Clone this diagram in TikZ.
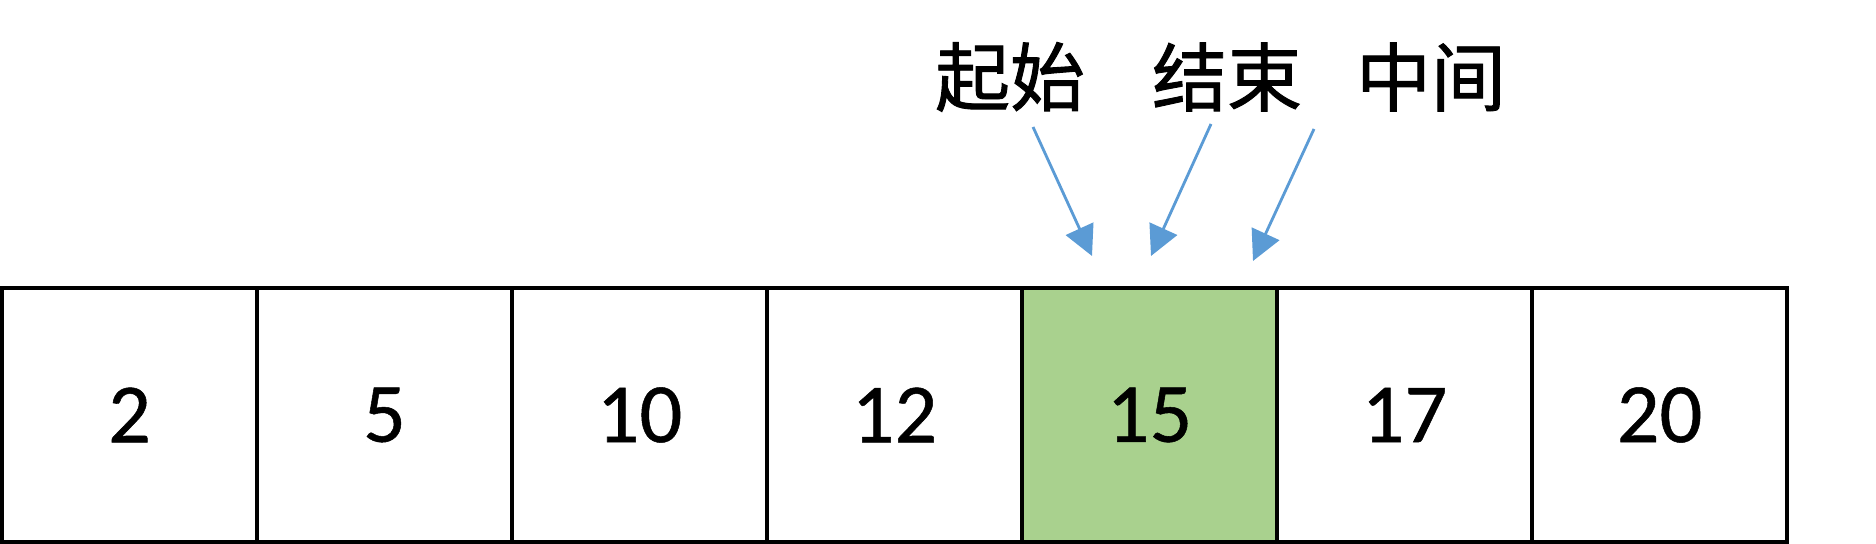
\documentclass[tikz,border=0pt]{standalone}
\usepackage{fontspec}
\setmainfont{Carlito}[FakeBold=0.6]
\newfontfamily\cjkfont{Noto Sans CJK SC}[FakeBold=1.2]
\usetikzlibrary{positioning,arrows.meta}
\definecolor{cellgreen}{HTML}{A9D18E}
\definecolor{ptrblue}{HTML}{5B9BD5}

\begin{document}
\begin{tikzpicture}[
  cell/.style={draw=black, line width=1.2pt, minimum width=2.55cm, minimum height=2.54cm,
    inner sep=0pt, outer sep=0pt, font=\fontsize{24}{28}\selectfont},
  tag/.style={font=\cjkfont\fontsize{21.3}{26}\selectfont, inner sep=0pt},
  ptr/.style={draw=ptrblue, line width=0.8pt, -{Triangle[length=3mm, width=3mm]}}
]
%% Fix the page size so that it has the same proportions as the original
    \useasboundingbox (0,0) rectangle (18.76,5.44);
%% The array, one box after another
    \node[cell] (n1) at (1.295,1.29) {2};
    \node[cell, right=0pt of n1] (n2) {5};
    \node[cell, right=0pt of n2] (n3) {10};
    \node[cell, right=0pt of n3] (n4) {12};
    \node[cell, fill=cellgreen, right=0pt of n4] (n5) {15};
    \node[cell, right=0pt of n5] (n6) {17};
    \node[cell, right=0pt of n6] (n7) {20};
%% The three pointers on top
    \node[tag] (start) at (10.10,4.67) {起始};
    \node[tag] (end) at (12.27,4.67) {结束};
    \node[tag] (mid) at (14.31,4.67) {中间};
    \coordinate (startfrom) at (10.33,4.17);
    \coordinate (startto) at (10.92,2.88);
    \coordinate (endfrom) at (12.11,4.20);
    \coordinate (endto) at (11.51,2.88);
    \coordinate (midfrom) at (13.14,4.15);
    \coordinate (midto) at (12.53,2.83);
    \draw[ptr] (startfrom) -- (startto);
    \draw[ptr] (endfrom) -- (endto);
    \draw[ptr] (midfrom) -- (midto);
\end{tikzpicture}
\end{document}
